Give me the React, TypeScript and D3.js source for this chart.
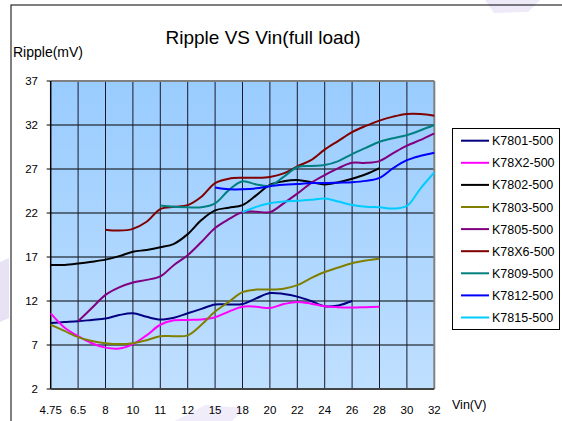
import React from "react";
import * as d3 from "d3";

const vinLabels = ["4.75", "6.5", "8", "10", "11", "12", "15", "18", "20", "22", "24", "26", "28", "30", "32"];
const rippleTicks = [2, 7, 12, 17, 22, 27, 32, 37];

// values every half category step (29 slots), null where the curve is absent
const k7801 = [9.5, 9.6, 9.7, 9.85, 10.0, 10.4, 10.6, 10.2, 9.9, 10.1, 10.6, 11.1, 11.6, 11.6, 11.65, 12.3, 12.9, 12.8, 12.5, 12.0, 11.4, 11.5, 12.0, null, null, null, null, null, null];
const k78x2 = [10.6, 9.0, 8.0, 7.2, 6.7, 6.6, 7.1, 8.1, 9.3, 9.8, 9.85, 9.9, 10.15, 10.8, 11.35, 11.35, 11.2, 11.65, 11.9, 11.7, 11.4, 11.3, 11.25, 11.3, 11.35, null, null, null, null];
const k7802 = [16.1, 16.1, 16.25, 16.45, 16.7, 17.1, 17.6, 17.8, 18.1, 18.5, 19.6, 21.2, 22.3, 22.6, 22.9, 24.0, 25.2, 25.6, 25.75, 25.5, 25.25, 25.5, 25.9, 26.4, 27.1, null, null, null, null];
const k7803 = [9.3, 8.6, 7.9, 7.45, 7.2, 7.1, 7.2, 7.55, 8.0, 8.0, 8.1, 9.3, 10.8, 11.9, 13.0, 13.3, 13.3, 13.4, 13.8, 14.6, 15.3, 15.8, 16.3, 16.6, 16.8, null, null, null, null];
const k7805 = [null, null, 9.7, 11.2, 12.7, 13.55, 14.1, 14.4, 14.8, 16.1, 17.2, 18.7, 20.3, 21.3, 22.1, 22.15, 22.1, 23.1, 24.2, 25.4, 26.3, 27.1, 27.7, 27.7, 27.9, 28.8, 29.65, 30.3, 31.05];
const k78x6 = [null, null, null, null, 20.1, 20.0, 20.2, 21.0, 22.45, 22.7, 22.9, 23.85, 25.4, 25.9, 26.0, 26.0, 26.1, 26.5, 27.3, 28.0, 29.2, 30.2, 31.2, 31.9, 32.5, 32.95, 33.25, 33.25, 33.05];
const k7809 = [null, null, null, null, null, null, null, null, 22.85, 22.7, 22.65, 22.65, 23.1, 24.6, 25.6, 25.25, 25.1, 26.1, 27.2, 27.35, 27.45, 27.9, 28.7, 29.4, 30.1, 30.5, 30.85, 31.4, 32.0];
const k7812 = [null, null, null, null, null, null, null, null, null, null, null, null, 24.9, 24.7, 24.7, 24.8, 25.05, 25.2, 25.3, 25.4, 25.4, 25.45, 25.5, 25.65, 26.0, 27.1, 28.0, 28.5, 28.85];
const k7815 = [null, null, null, null, null, null, null, null, null, null, null, null, null, null, 22.1, 22.7, 23.1, 23.3, 23.4, 23.5, 23.65, 23.3, 22.9, 22.7, 22.65, 22.5, 22.8, 24.8, 26.6];

const seriesNames = ["K7801-500", "K78X2-500", "K7802-500", "K7803-500", "K7805-500", "K78X6-500", "K7809-500", "K7812-500", "K7815-500"];
const seriesValues = [k7801, k78x2, k7802, k7803, k7805, k78x6, k7809, k7812, k7815];
const seriesColors = ["#000080", "#FF00FF", "#000000", "#808000", "#800080", "#800000", "#008080", "#0000FF", "#00CCFF"];

const W = 562;
const H = 421;
const plot = { left: 50.7, right: 434.3, top: 81, bottom: 389 };
const font = "Arial, 'Liberation Sans', sans-serif";

export default function App() {
  const x = d3.scaleLinear().domain([0, vinLabels.length - 1]).range([plot.left, plot.right]);
  const y = d3.scaleLinear().domain([2, 37]).range([plot.bottom, plot.top]);

  const line = d3
    .line<number | null>()
    .defined(d => d != null)
    .x((d, i) => x(i / 2))
    .y(d => y(d as number))
    .curve(d3.curveCatmullRom.alpha(0.5));

  return (
    <svg width={W} height={H} style={{ position: "absolute", left: 0, top: 0 }} fontFamily={font}>
      <defs>
        <linearGradient id="bg" x1="0" y1="0" x2="0" y2="1">
          <stop offset="0" stopColor="#99CCFF" />
          <stop offset="1" stopColor="#BFDFFF" />
        </linearGradient>
      </defs>
      <rect x={0} y={0} width={W} height={H} fill="#fff" />
      {/* faint watermark shapes */}
      <polygon points="485,0 540,0 528,12 494,13" fill="#EEEAF8" />
      <polygon points="0,262 9,258 9,318 0,322" fill="#E8E2F5" />
      <polygon points="175,421 205,405 245,408 232,421" fill="#F0ECF9" />
      <rect x={11} y={5} width={W} height={H} fill="none" stroke="#000" strokeWidth={1} />

      <text x={263} y={44} textAnchor="middle" fontSize={19}>Ripple VS Vin(full load)</text>
      <text x={13} y={57} fontSize={14}>Ripple(mV)</text>
      <text x={452} y={409} fontSize={12.5}>Vin(V)</text>

      <rect x={plot.left} y={plot.top} width={plot.right - plot.left} height={plot.bottom - plot.top} fill="url(#bg)" />

      {rippleTicks.map(t => (
        <g key={t}>
          {t > 2 && t < 37 && (
            <line x1={plot.left} x2={plot.right} y1={y(t)} y2={y(t)} stroke="#000" strokeWidth={1} />
          )}
          <line x1={plot.left - 4} x2={plot.left} y1={y(t)} y2={y(t)} stroke="#000" />
          <text x={38} y={y(t)} dy="0.35em" textAnchor="end" fontSize={11.5}>{t}</text>
        </g>
      ))}
      {vinLabels.map((v, i) => (
        <g key={v}>
          {i > 0 && i < vinLabels.length - 1 && (
            <line x1={x(i)} x2={x(i)} y1={plot.top} y2={plot.bottom} stroke="#1a1a2a" strokeWidth={1} />
          )}
          <text x={x(i)} y={414} textAnchor="middle" fontSize={11.5}>{v}</text>
        </g>
      ))}
      <line x1={plot.left} x2={plot.right} y1={plot.top} y2={plot.top} stroke="#808080" strokeWidth={2} />
      <line x1={plot.right} x2={plot.right} y1={plot.top} y2={plot.bottom} stroke="#808080" strokeWidth={2} />
      <line x1={plot.left} x2={plot.left} y1={plot.top} y2={plot.bottom} stroke="#000" strokeWidth={1.5} />
      <line x1={plot.left} x2={plot.right} y1={plot.bottom} y2={plot.bottom} stroke="#444" strokeWidth={2} />

      {seriesValues.map((vals, k) => (
        <path key={seriesNames[k]} d={line(vals) || ""} fill="none" stroke={seriesColors[k]} strokeWidth={2} />
      ))}

      <rect x={452.5} y={128.5} width={107} height={201} fill="#fff" stroke="#000" strokeWidth={1} />
      {seriesNames.map((n, k) => {
        const ly = 140.7 + k * 22.1;
        return (
          <g key={n}>
            <line x1={461} x2={489} y1={ly} y2={ly} stroke={seriesColors[k]} strokeWidth={2} />
            <text x={492} y={ly} dy="0.36em" fontSize={12.5}>{n}</text>
          </g>
        );
      })}
    </svg>
  );
}
